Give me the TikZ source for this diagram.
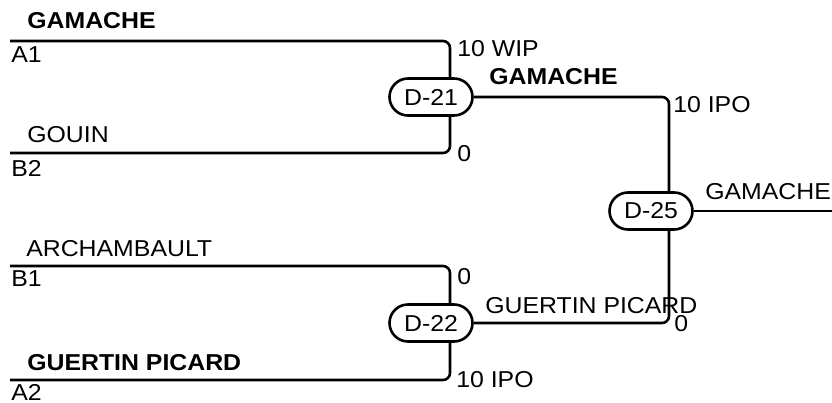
\documentclass[tikz,border=0pt]{standalone}
\usepackage{fontspec}
\setmainfont{Liberation Sans}[FakeStretch=1.08]
\usetikzlibrary{shapes.misc}

\begin{document}
\begin{tikzpicture}[x=1pt,y=-1pt,line width=2.6pt,
    game/.style={draw,rounded rectangle,minimum width=83pt,minimum height=37pt,inner sep=0pt,font=\fontsize{23}{26}\selectfont},
    lbl/.style={anchor=base west,inner sep=0pt,font=\fontsize{23}{26}\selectfont},
    win/.style={lbl,font=\fontsize{23}{26}\selectfont\bfseries},
    bracket/.style={rounded corners=7pt}]
  \useasboundingbox (0,0) rectangle (832,403);
  % games
  \node[game] at (431,97) (d21) {D-21};
  \node[game] at (431,323) (d22) {D-22};
  \node[game] at (651,211) (d25) {D-25};
  % entry lines
  \coordinate (a1) at (10,41);
  \coordinate (b2) at (10,153);
  \coordinate (b1) at (10,266);
  \coordinate (a2) at (10,380);
  \coordinate (out) at (832,211);
  \draw[bracket] (a1) -| ([xshift=19pt]d21.north);
  \draw[bracket] (b2) -| ([xshift=19pt]d21.south);
  \draw[bracket] (b1) -| ([xshift=19pt]d22.north);
  \draw[bracket] (a2) -| ([xshift=19pt]d22.south);
  \draw[bracket] (d21.east) -| ([xshift=18pt]d25.north);
  \draw[bracket] (d22.east) -| ([xshift=18pt]d25.south);
  \draw (d25.east) -- (out);
  % team names
  \node[win] at (26,29) (n1) {GAMACHE};
  \node[lbl] at (10,63) (s1) {A1};
  \node[lbl] at (26,143) (n2) {GOUIN};
  \node[lbl] at (10,177) (s2) {B2};
  \node[lbl] at (25,257) (n3) {ARCHAMBAULT};
  \node[lbl] at (10,287) (s3) {B1};
  \node[win] at (26,370) (n4) {GUERTIN PICARD};
  \node[lbl] at (10,400) (s4) {A2};
  % scores
  \node[lbl] at (456,57) (p1) {10 WIP};
  \node[lbl] at (456,162) (p2) {0};
  \node[lbl] at (456,284) (p3) {0};
  \node[lbl] at (455,387) (p4) {10 IPO};
  \node[lbl] at (672,113) (p5) {10 IPO};
  \node[lbl] at (673,331) (p6) {0};
  % winners
  \node[win] at (488,85) (w1) {GAMACHE};
  \node[lbl] at (484,313) (w2) {GUERTIN PICARD};
  \node[lbl] at (704,200) (w3) {GAMACHE};
\end{tikzpicture}
\end{document}
